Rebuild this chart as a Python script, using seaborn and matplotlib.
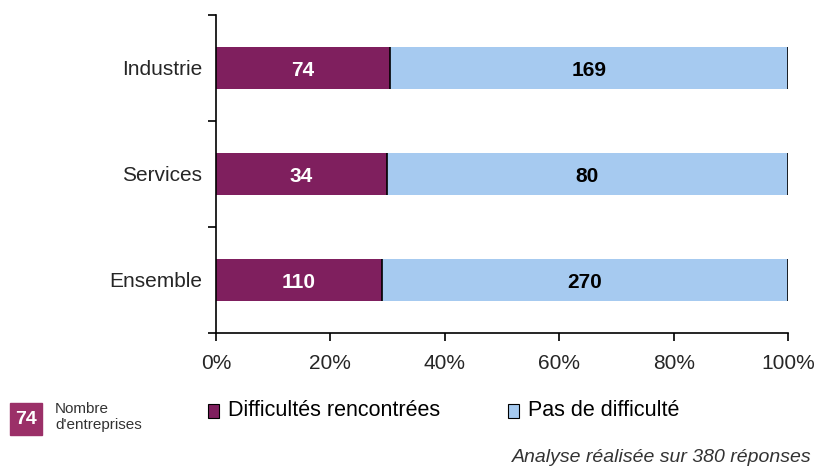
import numpy as np
import pandas as pd
import seaborn as sns
import matplotlib.pyplot as plt
from matplotlib.patches import Rectangle

# === Data ===
categories = ["Industrie", "Services", "Ensemble"]
difficultes = [74, 34, 110]
pas_difficulte = [169, 80, 270]
series_names = ["Difficultés rencontrées", "Pas de difficulté"]

MAGENTA = "#7F1F5E"
BLUE = "#A6CAF0"

df = pd.DataFrame({"categorie": categories,
                   "diff": difficultes,
                   "pas": pas_difficulte})
df["total"] = df["diff"] + df["pas"]
df["diff_pct"] = df["diff"] / df["total"] * 100
df["cum_pct"] = 100.0

sns.set_theme(style="white")
plt.rcParams["font.family"] = ["Liberation Sans", "DejaVu Sans"]

fig = plt.figure(figsize=(8.15, 4.67), dpi=100)
ax = fig.add_axes([0.265, 0.287, 0.702, 0.681])

# stacked: draw the full bar in blue, then the magenta part on top
sns.barplot(data=df, y="categorie", x="cum_pct", color=BLUE, orient="h",
            width=0.4, ax=ax, saturation=1, edgecolor="none")
sns.barplot(data=df, y="categorie", x="diff_pct", color=MAGENTA, orient="h",
            width=0.4, ax=ax, saturation=1, edgecolor="none")

# thin dark separators at the end of each segment
for i, p in enumerate(df["diff_pct"]):
    ax.vlines([p, 100], i - 0.2, i + 0.2, color="black", lw=1.2)
    ax.text(p / 2, i + 0.02, str(df["diff"][i]), ha="center", va="center",
            color="white", fontsize=15, fontweight="bold")
    ax.text((p + 100) / 2, i + 0.02, str(df["pas"][i]), ha="center", va="center",
            color="black", fontsize=15, fontweight="bold")

ax.set_xlim(0, 100)
ax.set_ylim(2.5, -0.5)
ax.set_xticks(np.arange(0, 101, 20))
ax.set_xticklabels([f"{v}%" for v in range(0, 101, 20)], fontsize=15)
ax.set_xlabel("")
ax.set_ylabel("")

# Excel-like y axis: tick marks between categories, labels centred
ax.set_yticks([0, 1, 2])
ax.set_yticklabels(categories, fontsize=15)
ax.tick_params(axis="y", length=0, pad=10)
ax.set_yticks([-0.5, 0.5, 1.5, 2.5], minor=True)
ax.tick_params(axis="y", which="minor", length=6, width=1.2, color="black",
               direction="out", left=True)
ax.tick_params(axis="x", length=6, width=1.2, color="black",
               direction="out", bottom=True, pad=9)

for side in ["top", "right"]:
    ax.spines[side].set_visible(False)
for side in ["left", "bottom"]:
    ax.spines[side].set_color("black")
    ax.spines[side].set_linewidth(1.2)

# === Legend row ===
fig.patches.append(Rectangle((10 / 815, 1 - 435 / 467), 32 / 815, 32 / 467,
                             transform=fig.transFigure, color="#9B3068"))
fig.text(26 / 815, 1 - 419 / 467, "74", color="white", fontsize=14,
         fontweight="bold", ha="center", va="center")
fig.text(55 / 815, 1 - 417 / 467, "Nombre\nd'entreprises", fontsize=11,
         color="#333333", ha="left", va="center", linespacing=1.2)

for x0, col, name in [(208, MAGENTA, series_names[0]),
                      (508, BLUE, series_names[1])]:
    fig.patches.append(Rectangle((x0 / 815, 1 - 418 / 467), 11 / 815, 14 / 467,
                                 transform=fig.transFigure, facecolor=col,
                                 edgecolor="black", lw=0.8))
    fig.text((x0 + 20) / 815, 1 - 411 / 467, name, fontsize=15.5,
             ha="left", va="center", color="black")

fig.text(812 / 815, 1 - 457 / 467, "Analyse réalisée sur 380 réponses",
         fontsize=14, style="italic", color="#333333", ha="right", va="center")

fig.savefig("out.png", dpi=100)
